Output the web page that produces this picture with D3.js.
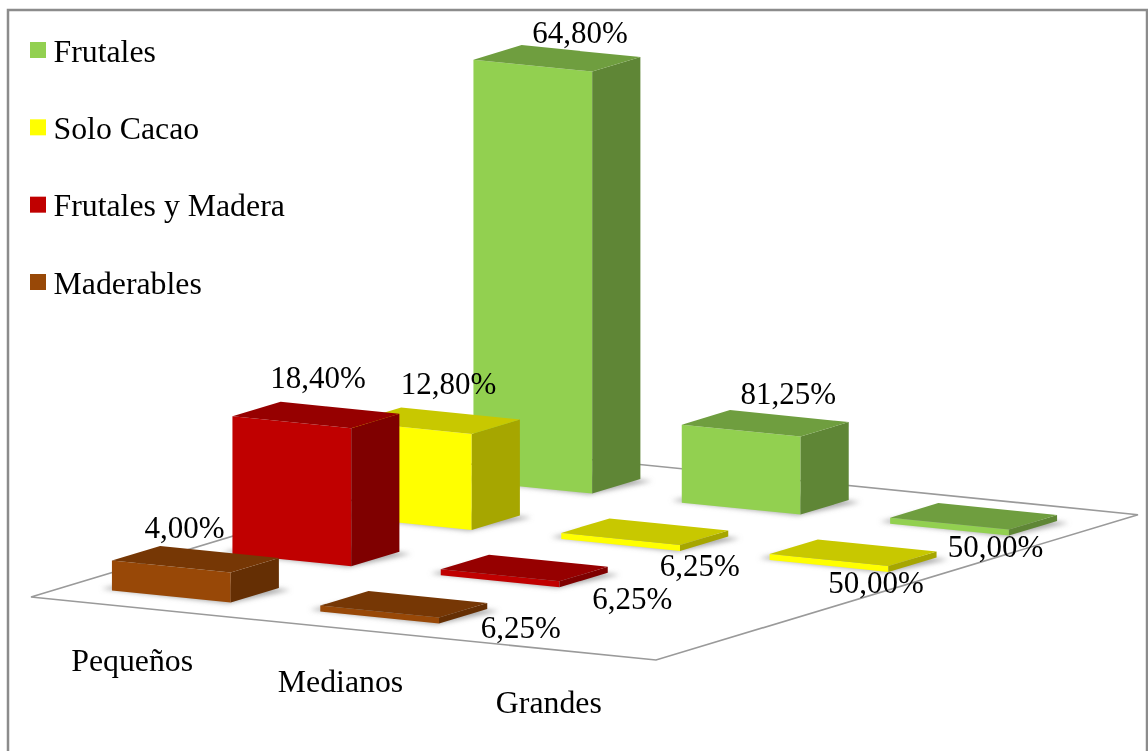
<!DOCTYPE html>
<html lang="es">
<head>
<meta charset="utf-8">
<title>Sistemas de cultivo por tamaño de finca</title>
<script src="https://cdn.jsdelivr.net/npm/d3@7/dist/d3.min.js"></script>
<style>
  html, body { margin: 0; padding: 0; background: #fff; }
  svg { display: block; }
  text { font-family: "Liberation Serif", "Times New Roman", serif; font-size: 31.8px; fill: #000; }
  text.pct { font-size: 31px; }
</style>
</head>
<body>
<script>
// Farm counts per size class; the percentage labels are each count's share of its class.
const categories = ["Pequeños", "Medianos", "Grandes"];
const seriesNames = ["Frutales", "Solo Cacao", "Frutales y Madera", "Maderables"];
const frutales = [81, 13, 1];
const soloCacao = [16, 1, 1];
const frutalesMadera = [23, 1, 0];
const maderables = [5, 1, 0];
const seriesValues = [frutales, soloCacao, frutalesMadera, maderables];

// Face colours per series: front, top, side.
const frontColors = ["#92D050", "#FFFF00", "#C00000", "#984807"];
const topColors = ["#6F9E3F", "#C8C800", "#960000", "#763705"];
const sideColors = ["#5F8636", "#A6A600", "#7F0000", "#652F04"];

// Hand-placed label nudges from the centre of each bar's top face, [dx, baseline dy].
const labelNudges = [
  [[23, -15.5], [23, -19], [22, 41]],
  [[12, -27], [55, 44], [23, 40]],
  [[2, -27], [108, 41], null],
  [[-11, -21], [117, 34], null]
];

const width = 1148, height = 751;
const svg = d3.select("body").append("svg").attr("width", width).attr("height", height);

// Soft shadow that the bars cast on the floor.
svg.append("defs").append("filter")
  .attr("id", "floorShadow")
  .attr("x", "-20%").attr("y", "-40%").attr("width", "140%").attr("height", "180%")
  .append("feGaussianBlur").attr("stdDeviation", 2.5);

// Outer frame of the chart area, open past the bottom of the page.
svg.append("rect")
  .attr("x", 8).attr("y", 10).attr("width", 1139).attr("height", 760)
  .attr("fill", "#fff").attr("stroke", "#8c8c8c").attr("stroke-width", 2.5);

// Floor is a parallelogram: u runs along the front edge, v runs towards the back.
const floorLeft = [31, 597], floorFront = [656, 660], floorRight = [1138, 514.7];
const uAxis = [floorFront[0] - floorLeft[0], floorFront[1] - floorLeft[1]];
const vAxis = [floorRight[0] - floorFront[0], floorRight[1] - floorFront[1]];
const project = (u, v) => [
  floorLeft[0] + u * uAxis[0] + v * vAxis[0],
  floorLeft[1] + u * uAxis[1] + v * vAxis[1]
];

const uScale = d3.scaleBand().domain(categories).range([0, 1]).paddingInner(0.43).paddingOuter(0.215);
const vScale = d3.scaleBand().domain(seriesNames.slice().reverse()).range([0, 1]).paddingInner(0.6).paddingOuter(0.3);
// Heights foreshorten slightly towards the top of the tallest column.
const hScale = d3.scaleLinear().domain([0, 23, 81]).range([0, 138, 422]);

const line = d3.line();

svg.append("path")
  .attr("d", line([floorLeft, floorFront, floorRight,
    [floorLeft[0] + floorRight[0] - floorFront[0], floorLeft[1] + floorRight[1] - floorFront[1]]]) + "Z")
  .attr("fill", "#fff").attr("stroke", "#9a9a9a").attr("stroke-width", 1.6);

// Flatten to one record per non-empty bar, painted from the back row forward.
const bars = [];
seriesNames.forEach((name, s) => {
  categories.forEach((cat, c) => {
    const value = seriesValues[s][c];
    if (!value) return;
    const total = d3.sum(seriesValues, d => d[c]);
    const u0 = uScale(cat), u1 = u0 + uScale.bandwidth();
    const v0 = vScale(name), v1 = v0 + vScale.bandwidth();
    bars.push({ s, c, value, share: value / total * 100, u0, u1, v0, v1, h: hScale(value) });
  });
});

const lift = (p, h) => [p[0], p[1] - h];

// Shadow flares out past the left front corner and the right rear corner.
const shadowLayer = svg.append("g").attr("filter", "url(#floorShadow)");
shadowLayer.selectAll("path").data(bars).join("path")
  .attr("d", d => line([
    project(d.u0 - 0.02, d.v0 + 0.004), project(d.u1, d.v0 - 0.006),
    project(d.u1 + 0.022, d.v1 - 0.004), project(d.u0, d.v1)
  ]) + "Z")
  .attr("fill", "#8f8f8f").attr("opacity", 0.75);

const barLayer = svg.append("g");
const barGroups = barLayer.selectAll("g").data(bars).join("g");

barGroups.append("path")
  .attr("d", d => line([
    lift(project(d.u0, d.v0), d.h), lift(project(d.u1, d.v0), d.h),
    project(d.u1, d.v0), project(d.u0, d.v0)
  ]) + "Z")
  .attr("fill", d => frontColors[d.s]);

barGroups.append("path")
  .attr("d", d => line([
    lift(project(d.u1, d.v0), d.h), lift(project(d.u1, d.v1), d.h),
    project(d.u1, d.v1), project(d.u1, d.v0)
  ]) + "Z")
  .attr("fill", d => sideColors[d.s]);

barGroups.append("path")
  .attr("d", d => line([
    lift(project(d.u0, d.v0), d.h), lift(project(d.u1, d.v0), d.h),
    lift(project(d.u1, d.v1), d.h), lift(project(d.u0, d.v1), d.h)
  ]) + "Z")
  .attr("fill", d => topColors[d.s]);

// Percentages use the decimal comma.
const pct = d => d3.format(".2f")(d).replace(".", ",") + "%";

svg.append("g").selectAll("text").data(bars).join("text")
  .attr("class", "pct")
  .attr("text-anchor", "middle")
  .attr("x", d => project((d.u0 + d.u1) / 2, (d.v0 + d.v1) / 2)[0] + labelNudges[d.s][d.c][0])
  .attr("y", d => project((d.u0 + d.u1) / 2, (d.v0 + d.v1) / 2)[1] - d.h + labelNudges[d.s][d.c][1])
  .text(d => pct(d.share));

// Category names sit in front of the floor's front edge.
svg.append("g").selectAll("text").data(categories).join("text")
  .attr("text-anchor", "middle")
  .attr("x", d => project(uScale(d) + uScale.bandwidth() / 2, 0)[0] - 3)
  .attr("y", d => project(uScale(d) + uScale.bandwidth() / 2, 0)[1] + 63.5)
  .text(d => d);

// Legend column.
const legendY = d3.scalePoint().domain(seriesNames).range([50, 282]);
const legend = svg.append("g").selectAll("g").data(seriesNames).join("g")
  .attr("transform", d => `translate(0,${legendY(d)})`);
legend.append("rect")
  .attr("x", 30).attr("y", -8).attr("width", 16).attr("height", 16)
  .attr("fill", (d, i) => frontColors[i]);
legend.append("text")
  .attr("x", 53.5).attr("y", 11.5)
  .text(d => d);
</script>
</body>
</html>
